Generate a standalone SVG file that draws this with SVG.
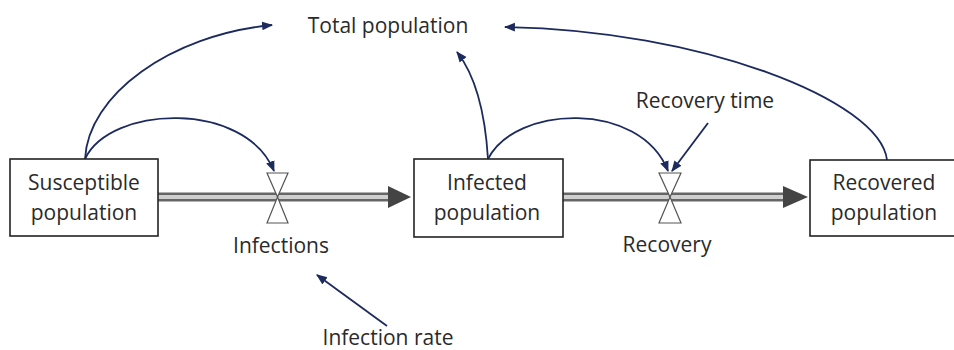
<svg xmlns="http://www.w3.org/2000/svg" width="954" height="350" viewBox="0 0 954 350">
<defs>
<style>
.box{fill:#fff;stroke:#222;stroke-width:1.6}
.t{font-family:"Open Sans","Liberation Sans",sans-serif;font-size:21px;fill:#2a2a2a;text-anchor:middle}
.pipeO{stroke:#666;stroke-width:9;fill:none}
.pipeI{stroke:#cfcfcf;stroke-width:4;fill:none}
.valve{fill:#fff;stroke:#555;stroke-width:1.2}
.link{fill:none;stroke:#1c2a5e;stroke-width:1.8}
.head{fill:#444}
</style>
<marker id="ah" viewBox="0 0 10 10" refX="9" refY="5" markerWidth="7" markerHeight="7" markerUnits="userSpaceOnUse" orient="auto">
<path d="M0,0 L10,5 L0,10 z" fill="#1c2a5e"/>
</marker>
<marker id="ah2" viewBox="0 0 10 10" refX="9" refY="5" markerWidth="11" markerHeight="11" markerUnits="userSpaceOnUse" orient="auto">
<path d="M0,1 L10,5 L0,9 z" fill="#1c2a5e"/>
</marker>
</defs>
<g id="flows">
<line class="pipeO" x1="158" y1="197" x2="392" y2="197"/>
<line class="pipeI" x1="158" y1="197" x2="392" y2="197"/>
<path class="head" d="M388,186 L411,197 L388,208 z"/>
<line class="pipeO" x1="563" y1="197" x2="787" y2="197"/>
<line class="pipeI" x1="563" y1="197" x2="787" y2="197"/>
<path class="head" d="M783,186 L808,197 L783,208 z"/>
</g>
<g id="connectors">
<path class="link" marker-end="url(#ah2)" d="M85,159 C88,95 170,35 272,25"/>
<path class="link" marker-end="url(#ah2)" d="M85,159 C110,105 245,100 274,171"/>
<path class="link" marker-end="url(#ah2)" d="M488,159 C485,110 475,75 457,52"/>
<path class="link" marker-end="url(#ah2)" d="M488,159 C515,105 640,100 668,171"/>
<path class="link" marker-end="url(#ah2)" d="M708,123 L672,171"/>
<path class="link" marker-end="url(#ah2)" d="M887,160 C880,100 700,30 505,27"/>
<path class="link" marker-end="url(#ah2)" d="M387,326 L317,275"/>
</g>
<g id="susceptible">
<rect class="box" x="10" y="159" width="148" height="77"/>
<text class="t" x="84" y="190">Susceptible</text>
<text class="t" x="84" y="220">population</text>
</g>
<g id="infections">
<path class="valve" d="M267,173 L288,173 L277.5,197 z"/>
<path class="valve" d="M277.5,197 L288,223 L267,223 z"/>
<text class="t" x="281" y="253">Infections</text>
</g>
<g id="infected">
<rect class="box" x="414" y="159" width="149" height="78"/>
<text class="t" x="487" y="190">Infected</text>
<text class="t" x="487" y="220">population</text>
</g>
<g id="recovery">
<path class="valve" d="M659,173 L681,173 L670,197 z"/>
<path class="valve" d="M670,197 L681,223 L659,223 z"/>
<text class="t" x="667" y="252">Recovery</text>
</g>
<g id="recovered">
<rect class="box" x="810" y="160" width="160" height="76"/>
<text class="t" x="884" y="190">Recovered</text>
<text class="t" x="884" y="220">population</text>
</g>
<g id="total">
<text class="t" x="388" y="33">Total population</text>
</g>
<g id="recoverytime">
<text class="t" x="705" y="108">Recovery time</text>
</g>
<g id="infectionrate">
<text class="t" x="388" y="345">Infection rate</text>
</g>
</svg>
